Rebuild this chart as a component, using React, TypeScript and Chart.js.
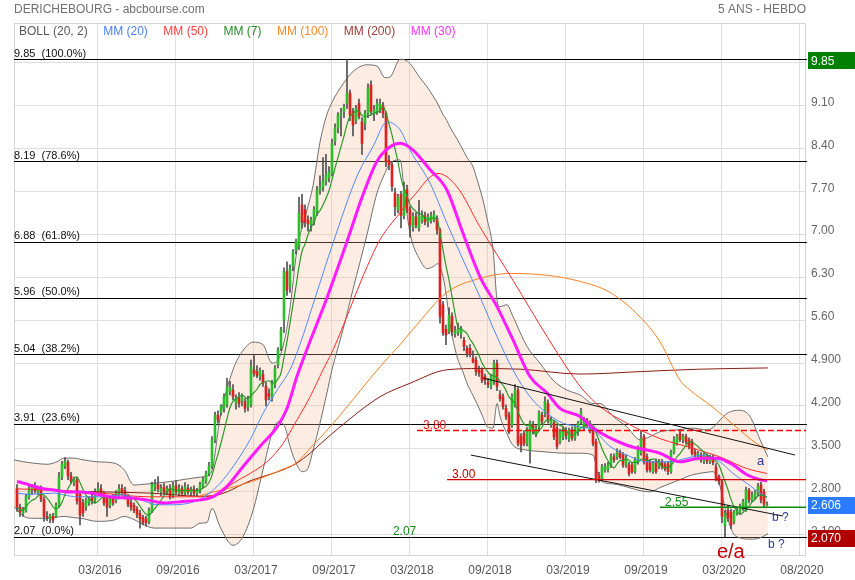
import React, { useEffect, useRef } from "react";
import { Chart, registerables } from "chart.js";

Chart.register(...registerables);

const FONT = '"Liberation Sans", Arial, Helvetica, sans-serif';

// ---- weekly candles (week index 0..250) ----
const open = [
  2.85,2.55,2.45,2.50,2.72,2.84,2.88,2.80,2.86,2.68,
  2.40,2.36,2.40,2.40,2.58,3.05,3.22,3.28,3.06,2.96,
  3.00,2.76,2.62,2.55,2.62,2.72,2.66,2.78,2.85,2.76,
  2.70,2.58,2.70,2.66,2.76,2.86,2.82,2.72,2.62,2.58,
  2.52,2.45,2.38,2.36,2.32,2.48,2.88,2.92,2.80,2.88,
  2.80,2.85,2.74,2.90,2.78,2.85,2.78,2.86,2.80,2.84,
  2.78,2.82,2.90,2.98,3.10,3.22,3.65,4.05,4.10,4.16,
  4.22,4.44,4.46,4.24,4.33,4.28,4.27,4.18,4.22,4.79,
  4.76,4.68,4.71,4.52,4.40,4.33,4.55,4.87,5.14,5.60,
  6.39,6.14,6.47,6.74,6.80,7.48,7.40,7.23,7.15,7.20,
  7.37,7.72,7.76,7.86,7.92,7.99,8.51,8.73,8.94,9.00,
  9.13,9.30,9.00,8.85,9.13,8.83,8.80,8.97,9.43,8.97,
  9.00,9.05,9.10,8.97,8.20,8.13,7.67,7.40,7.65,7.30,
  7.73,7.40,7.12,7.28,7.10,7.22,7.30,7.20,7.22,7.24,
  7.26,7.07,5.85,5.45,5.41,5.66,5.38,5.40,5.38,5.27,
  5.14,5.14,4.98,4.95,4.79,4.79,4.68,4.58,4.52,4.60,
  4.89,4.38,4.35,4.16,4.05,3.89,4.22,4.46,3.70,3.75,
  3.59,3.48,3.89,3.75,3.86,4.05,4.08,4.24,3.90,3.92,
  3.84,3.62,3.70,3.80,3.66,3.80,3.68,3.78,3.94,3.86,
  3.97,3.81,3.78,3.62,3.07,3.02,3.16,3.16,3.24,3.37,
  3.37,3.45,3.40,3.24,3.24,3.24,3.13,3.29,3.43,3.70,
  3.37,3.29,3.13,3.29,3.21,3.29,3.24,3.26,3.13,3.45,
  3.60,3.75,3.65,3.70,3.65,3.62,3.45,3.36,3.40,3.30,
  3.38,3.30,3.36,3.21,3.05,2.97,2.25,2.50,2.47,2.31,
  2.45,2.48,2.53,2.50,2.83,2.67,2.72,2.78,2.91,2.80,
  2.59,
];
const high = [
  2.92,2.60,2.55,2.76,2.90,2.92,2.95,2.90,2.90,2.72,
  2.48,2.44,2.45,2.62,3.12,3.30,3.36,3.32,3.12,3.04,
  3.04,2.80,2.68,2.70,2.72,2.80,2.85,2.95,2.92,2.80,
  2.74,2.72,2.76,2.82,2.92,2.92,2.88,2.76,2.68,2.62,
  2.56,2.50,2.42,2.40,2.54,2.96,3.00,3.05,2.92,2.94,
  2.90,2.92,2.96,2.98,2.92,2.90,2.95,2.92,2.88,2.90,
  2.86,2.96,3.04,3.14,3.28,3.70,4.10,4.12,4.22,4.40,
  4.65,4.60,4.55,4.38,4.42,4.40,4.32,4.36,4.95,5.02,
  4.86,4.82,4.78,4.58,4.48,4.62,4.86,5.15,5.48,6.45,
  6.55,6.50,6.75,6.92,7.60,7.65,7.48,7.30,7.28,7.45,
  7.78,7.95,8.25,8.30,8.10,8.55,8.80,8.98,9.05,9.12,
  9.85,9.35,9.05,9.10,9.20,8.90,9.02,9.45,9.50,9.10,
  9.20,9.20,9.15,9.00,8.28,8.18,7.75,7.65,7.70,7.85,
  7.80,7.45,7.35,7.35,7.55,7.38,7.36,7.33,7.36,7.38,
  7.30,7.10,5.90,5.52,5.80,5.72,5.50,5.55,5.50,5.32,
  5.18,5.20,5.10,5.00,4.85,4.82,4.72,4.65,4.72,4.95,
  4.95,4.45,4.40,4.22,4.10,4.40,4.55,4.50,3.75,3.80,
  3.85,3.96,3.95,3.88,4.12,4.10,4.35,4.30,4.02,3.96,
  3.88,3.82,3.86,3.85,3.84,3.86,3.88,3.95,4.16,4.02,
  4.00,3.96,3.82,3.66,3.12,3.25,3.26,3.28,3.42,3.42,
  3.50,3.48,3.44,3.40,3.28,3.28,3.36,3.55,3.80,3.74,
  3.42,3.33,3.30,3.34,3.33,3.33,3.28,3.30,3.48,3.70,
  3.74,3.82,3.74,3.74,3.68,3.66,3.50,3.46,3.44,3.44,
  3.42,3.40,3.40,3.26,3.08,3.00,2.50,2.58,2.52,2.50,
  2.55,2.60,2.68,2.88,2.86,2.80,2.82,2.94,2.96,2.84,
  2.64,
];
const low = [
  2.48,2.40,2.40,2.47,2.68,2.76,2.78,2.76,2.64,2.32,
  2.33,2.30,2.30,2.38,2.55,3.00,3.18,3.00,2.94,2.90,
  2.60,2.26,2.40,2.50,2.58,2.60,2.62,2.74,2.74,2.58,
  2.40,2.54,2.58,2.62,2.72,2.76,2.68,2.56,2.50,2.46,
  2.38,2.21,2.26,2.24,2.28,2.46,2.82,2.80,2.74,2.76,
  2.75,2.68,2.70,2.76,2.74,2.74,2.75,2.76,2.74,2.74,
  2.74,2.78,2.86,2.94,3.06,3.18,3.60,3.92,4.05,4.10,
  4.18,4.38,4.30,4.15,4.18,4.20,4.10,4.12,4.18,4.68,
  4.66,4.62,4.52,4.20,4.30,4.28,4.50,4.82,5.10,5.40,
  6.00,6.05,6.40,6.68,6.75,7.10,7.12,7.05,7.05,7.15,
  7.30,7.65,7.70,7.80,7.85,7.95,8.45,8.65,8.60,8.90,
  9.05,8.85,8.60,8.80,8.88,8.30,8.70,8.90,8.95,8.85,
  8.95,8.98,8.90,8.10,8.05,7.70,7.30,7.35,7.10,7.25,
  7.35,6.95,7.05,7.10,7.05,7.18,7.15,7.12,7.18,7.20,
  7.00,5.55,5.35,5.20,5.38,5.35,5.32,5.35,5.30,5.10,
  5.00,5.00,4.90,4.70,4.68,4.58,4.55,4.50,4.48,4.55,
  4.45,4.28,4.15,3.98,3.75,3.85,4.18,3.55,3.45,3.55,
  3.55,3.27,3.74,3.70,3.82,3.90,4.02,3.92,3.85,3.65,
  3.50,3.58,3.65,3.66,3.62,3.64,3.64,3.72,3.90,3.80,
  3.85,3.76,3.55,2.95,2.96,2.98,3.12,3.12,3.20,3.28,
  3.33,3.34,3.20,3.20,3.06,3.10,3.10,3.25,3.40,3.25,
  3.12,3.12,3.10,3.10,3.18,3.17,3.14,3.08,3.10,3.42,
  3.56,3.62,3.60,3.58,3.50,3.40,3.36,3.32,3.28,3.26,
  3.26,3.26,3.24,2.98,2.92,2.30,2.07,2.32,2.20,2.28,
  2.42,2.45,2.50,2.48,2.62,2.64,2.68,2.74,2.62,2.56,
  2.57,
];
const close = [
  2.55,2.47,2.50,2.72,2.86,2.88,2.82,2.87,2.68,2.40,
  2.38,2.41,2.34,2.58,3.05,3.25,3.30,3.06,2.98,3.00,
  2.65,2.42,2.46,2.66,2.68,2.65,2.80,2.85,2.78,2.62,
  2.55,2.68,2.62,2.78,2.85,2.80,2.72,2.60,2.55,2.50,
  2.43,2.36,2.30,2.30,2.50,2.92,2.92,2.85,2.86,2.80,
  2.85,2.72,2.90,2.80,2.85,2.78,2.88,2.80,2.84,2.78,
  2.82,2.92,3.00,3.10,3.22,3.65,4.05,3.97,4.19,4.35,
  4.51,4.50,4.35,4.33,4.24,4.34,4.16,4.30,4.84,4.73,
  4.70,4.78,4.57,4.30,4.36,4.57,4.81,5.11,5.44,6.39,
  6.09,6.44,6.71,6.88,7.34,7.20,7.20,7.17,7.23,7.40,
  7.72,7.76,7.86,7.96,8.02,8.48,8.73,8.94,8.97,9.08,
  9.30,8.94,8.78,9.05,8.92,8.48,8.97,9.38,9.00,9.02,
  9.13,9.12,8.97,8.18,8.13,7.78,7.45,7.60,7.30,7.72,
  7.39,7.15,7.29,7.15,7.29,7.30,7.20,7.28,7.30,7.32,
  7.07,5.66,5.40,5.36,5.68,5.41,5.42,5.45,5.46,5.17,
  5.06,5.04,4.92,4.76,4.74,4.62,4.62,4.55,4.68,4.89,
  4.52,4.32,4.19,4.03,3.78,4.35,4.46,3.59,3.56,3.59,
  3.81,3.92,3.78,3.84,4.08,3.95,4.27,3.97,3.97,3.70,
  3.54,3.78,3.82,3.72,3.80,3.68,3.85,3.92,4.11,3.97,
  3.88,3.92,3.59,2.99,2.99,3.21,3.21,3.24,3.37,3.32,
  3.45,3.37,3.24,3.35,3.10,3.13,3.32,3.51,3.67,3.29,
  3.16,3.16,3.26,3.13,3.29,3.21,3.18,3.13,3.45,3.65,
  3.70,3.65,3.70,3.62,3.55,3.43,3.40,3.42,3.32,3.40,
  3.30,3.36,3.28,3.02,2.97,2.40,2.45,2.37,2.26,2.47,
  2.50,2.56,2.64,2.83,2.67,2.75,2.78,2.89,2.67,2.60,
  2.606,
];

// ---- Bollinger (20, 2) ----
const bollWeeks = [
  -1.0,2.3,5.3,10.0,13.3,15.7,19.0,21.3,26.7,32.3,
  35.7,39.0,41.3,45.7,51.3,58.0,61.0,63.3,65.0,67.7,
  72.0,75.3,78.7,82.0,85.0,87.0,89.3,91.0,93.3,95.0,
  96.7,98.7,101.0,103.3,105.0,108.7,112.0,116.7,120.0,122.7,
  124.3,127.7,129.3,131.0,134.3,136.7,138.7,140.3,142.0,143.3,
  144.3,146.7,148.7,150.0,152.0,153.3,155.3,156.7,158.7,160.0,
  161.0,163.3,165.3,170.0,174.3,178.7,183.3,187.7,192.0,194.3,
  198.7,203.3,207.7,211.0,214.3,220.0,225.3,230.0,232.0,234.3,
  236.7,238.7,241.0,244.3,247.7,250.3,
];
const bollUpper = [
  3.32,3.29,3.27,3.25,3.29,3.35,3.35,3.33,3.29,3.27,
  3.16,2.91,2.92,2.94,2.97,3.02,3.04,3.06,3.15,4.00,
  4.79,5.10,5.24,5.20,4.90,4.95,5.30,5.80,6.74,7.10,
  7.40,7.80,8.50,8.95,9.15,9.45,9.65,9.76,9.74,9.55,
  9.56,9.85,9.84,9.78,9.55,9.40,9.25,9.12,8.95,8.85,
  8.75,8.55,8.37,8.25,8.10,7.90,7.56,7.25,6.74,5.93,
  5.82,5.85,5.66,5.17,4.90,4.62,4.46,4.38,4.24,4.24,
  4.03,3.86,3.65,3.70,3.78,3.81,3.84,3.81,3.85,3.97,
  4.08,4.12,4.13,4.03,3.65,3.37,
];
const bollLower = [
  2.56,2.40,2.37,2.37,2.39,2.40,2.38,2.37,2.32,2.34,
  2.40,2.35,2.29,2.21,2.21,2.21,2.29,2.30,2.53,2.23,
  1.93,2.07,2.50,3.16,3.75,3.94,3.86,3.54,3.24,3.13,
  3.16,3.48,3.92,4.41,4.79,5.45,6.10,7.00,7.67,8.00,
  8.15,8.21,7.60,7.02,6.58,6.44,6.47,6.52,6.31,5.93,
  5.55,5.00,4.75,4.57,4.37,4.24,4.02,3.86,3.84,4.24,
  4.03,3.75,3.56,3.48,3.46,3.44,3.43,3.43,3.40,2.99,
  2.93,2.88,2.82,2.80,2.87,2.98,3.08,3.12,3.13,2.90,
  2.40,2.13,2.05,2.03,2.05,2.12,
];

// ---- moving averages: [week, value] ----
const mm20 = [[0,2.78],[4.3,2.76],[12.3,2.78],[15.7,2.75],[20,2.72],[28,2.72],[34.7,2.75],[41.3,2.67],[46.7,2.59],[52.3,2.59],[59,2.64],[63.3,2.75],[67.7,2.94],[72,3.21],[77.7,3.65],[82,4.08],[86.7,4.46],[91,4.79],[94.3,5.20],[99.3,5.95],[105.3,6.85],[113.3,7.94],[118.7,8.43],[123.3,8.83],[127.7,8.70],[131,8.37],[137.7,7.83],[143.3,7.18],[148.7,6.58],[154.3,5.98],[160,5.33],[165.3,4.79],[171,4.35],[176.7,4.08],[182,3.92],[187.7,3.86],[192,3.81],[197.7,3.54],[203.3,3.40],[210,3.29],[217.7,3.29],[223.3,3.35],[228.7,3.40],[234.3,3.29],[238.7,3.10],[243.3,2.94],[247.7,2.78],[250,2.72]];
const mm30 = [[0,2.97],[2.3,2.94],[8,2.86],[12.3,2.83],[16.7,2.80],[21.3,2.80],[28,2.75],[32.3,2.71],[38,2.70],[43.3,2.67],[49,2.62],[54.7,2.64],[61,2.67],[65.3,2.72],[70,2.89],[75.3,3.21],[81,3.54],[86.7,3.86],[90,4.16],[93.3,4.68],[96,5.04],[103.3,5.96],[110,6.88],[115,7.60],[120,8.19],[124.3,8.42],[127.7,8.48],[132,8.37],[137.7,8.05],[143.3,7.72],[148.7,7.01],[154.3,6.31],[160,5.82],[165.3,5.28],[171,4.68],[176.7,4.41],[181,4.16],[187.7,4.03],[192,3.84],[203.3,3.56],[214.3,3.43],[221,3.29],[227.7,3.35],[233.3,3.35],[238.7,3.24],[243.3,3.08],[247.7,3.00],[250,2.98]];
const mm50 = [[0,2.85],[14.3,2.82],[27.7,2.78],[44.3,2.72],[61,2.72],[67.7,2.78],[72,2.94],[77.7,3.10],[83.3,3.29],[88.7,3.59],[93.3,3.97],[97.7,4.35],[102,4.79],[105.3,5.11],[116.7,6.47],[121,6.91],[127.7,7.35],[132,7.61],[140.3,7.99],[146.7,7.77],[154.3,7.12],[165.3,6.25],[176.7,5.33],[185.3,4.68],[188.7,4.46],[194.3,4.19],[203.3,3.92],[214.3,3.67],[225.3,3.51],[234.3,3.37],[243.3,3.18],[250,3.10]];
const mm100 = [[61,2.74],[77.7,2.96],[88.7,3.17],[93.3,3.28],[97.7,3.51],[102,3.73],[107.7,4.05],[121,4.84],[127.7,5.20],[132,5.45],[143.3,6.05],[154.3,6.28],[164.3,6.36],[176.7,6.33],[187.7,6.23],[197.7,6.05],[207.7,5.65],[214.3,5.25],[221,4.62],[224.3,4.46],[231.7,4.19],[238.7,3.90],[246.7,3.58],[250.3,3.48]];
const mm200 = [[13.3,2.82],[27.7,2.80],[44.3,2.78],[61,2.73],[67.7,2.76],[77.7,2.98],[83.3,3.07],[88.7,3.16],[93.3,3.27],[97.7,3.43],[102,3.62],[107.7,3.86],[121,4.35],[131,4.57],[143.3,4.79],[154.3,4.81],[167.7,4.80],[187.7,4.72],[207.7,4.76],[227.7,4.80],[250.3,4.82]];

// ---- axes ----
const xTickWeeks = [26.67, 52.67, 78.67, 104.67, 130.67, 156.67, 182.67, 208.67, 234.67, 260.67];
const xTickLabels = ["03/2016", "09/2016", "03/2017", "09/2017", "03/2018", "09/2018", "03/2019", "09/2019", "03/2020", "08/2020"];
const yTickValues = [2.1, 2.8, 3.5, 4.2, 4.9, 5.6, 6.3, 7.0, 7.7, 8.4, 9.1, 9.8];

// ---- drawn levels ----
const fibLevels = [9.85, 8.19, 6.88, 5.96, 5.04, 3.91, 2.07];
const fibPercents = ["100.0%", "78.6%", "61.8%", "50.0%", "38.2%", "23.6%", "0.0%"];
const levelValues = [3.80, 3.00, 2.55];
const levelStartWeeks = [133.3, 143.3, 214.3];
const channelUpper = [[155.3, 4.656], [259.3, 3.401]];
const channelLower = [[151.3, 3.40], [255.3, 2.407]];
const highMark = 9.85;
const lastClose = 2.606;
const lowMark = 2.07;

const toXY = (pts: number[][]) => pts.map(([x, y]) => ({ x, y }));

export default function App() {
  const ref = useRef<HTMLCanvasElement>(null);

  useEffect(() => {
    const canvas = ref.current;
    if (!canvas) return;

    const wickData = close.map((_, i) => ({ x: i, y: [low[i], high[i]] }));
    const bodyData = close.map((c, i) => ({ x: i, y: [Math.min(open[i], c), Math.max(open[i], c)] }));
    const bodyColors = close.map((c, i) => (c >= open[i] ? "#2cbf2c" : "#dd2020"));
    const mm7 = close.map((_, i) => {
      const s = close.slice(Math.max(0, i - 6), i + 1);
      return { x: i, y: s.reduce((a, b) => a + b, 0) / s.length };
    });

    const levelStyles = [
      { color: "#ff0000", dash: [6, 3], width: 1.5 },
      { color: "#d00000", dash: [] as number[], width: 1.3 },
      { color: "#0a8a0a", dash: [] as number[], width: 1.5 },
    ];

    const notes = [
      { t: "3.80", w: 135.3, v: 3.80, dy: -2, color: "#e01818", size: 12 },
      { t: "3.00", w: 145.0, v: 3.00, dy: -2, color: "#c40000", size: 12 },
      { t: "2.55", w: 216.0, v: 2.55, dy: -1, color: "#158a15", size: 12 },
      { t: "2.07", w: 125.3, v: 2.07, dy: -2, color: "#158a15", size: 12 },
      { t: "a", w: 246.7, v: 3.238, dy: 0, color: "#2c3a96", size: 13 },
      { t: "b ?", w: 251.7, v: 2.326, dy: 0, color: "#2c3a96", size: 12 },
      { t: "b ?", w: 250.3, v: 1.886, dy: 0, color: "#2c3a96", size: 12 },
      { t: "e/a", w: 233.3, v: 1.723, dy: 0, color: "#c40000", size: 20 },
    ];

    const legendItems: [string, string][] = [
      ["BOLL (20, 2)", "#5a5a5a"],
      ["MM (20)", "#4a7dff"],
      ["MM (50)", "#ff4040"],
      ["MM (7)", "#258a25"],
      ["MM (100)", "#ff8a2a"],
      ["MM (200)", "#9c3a36"],
      ["MM (30)", "#ff30ff"],
    ];

    const overlay = {
      id: "overlay",
      beforeDatasetsDraw(chart: any) {
        const { ctx, chartArea: a, scales } = chart;
        const y = scales.y;
        ctx.save();
        ctx.lineWidth = 1;
        ctx.strokeStyle = "#d4d4d4";
        ctx.strokeRect(Math.round(a.left) + 0.5, Math.round(a.top) + 0.5, Math.round(a.right - a.left) - 1, Math.round(a.bottom - a.top) - 1);
        ctx.strokeStyle = "#000";
        fibLevels.forEach((v) => {
          const yy = Math.round(y.getPixelForValue(v)) + 0.5;
          ctx.beginPath();
          ctx.moveTo(a.left, yy);
          ctx.lineTo(a.right + 1, yy);
          ctx.stroke();
        });
        ctx.restore();
      },
      afterDatasetsDraw(chart: any) {
        const { ctx, chartArea: a, scales } = chart;
        const x = scales.x, y = scales.y;
        ctx.save();
        levelValues.forEach((v, i) => {
          const st = levelStyles[i];
          ctx.lineWidth = st.width;
          ctx.strokeStyle = st.color;
          ctx.setLineDash(st.dash);
          const yy = y.getPixelForValue(v);
          ctx.beginPath();
          ctx.moveTo(Math.round(x.getPixelForValue(levelStartWeeks[i])), yy);
          ctx.lineTo(a.right, yy);
          ctx.stroke();
        });
        ctx.setLineDash([]);
        ctx.restore();
      },
      afterDraw(chart: any) {
        const { ctx, chartArea: a, scales } = chart;
        const x = scales.x, y = scales.y;
        ctx.save();
        ctx.textBaseline = "alphabetic";
        ctx.font = `12px ${FONT}`;
        ctx.fillStyle = "#707070";
        ctx.textAlign = "left";
        ctx.fillText("DERICHEBOURG - abcbourse.com", 14, 13);
        ctx.textAlign = "right";
        ctx.fillText("5 ANS - HEBDO", a.right, 13);

        ctx.textAlign = "left";
        let lx = 19;
        legendItems.forEach(([t, c]) => {
          ctx.fillStyle = c;
          ctx.fillText(t, lx, 35);
          lx += ctx.measureText(t).width + 15.5;
        });

        ctx.font = `11px ${FONT}`;
        ctx.fillStyle = "#111";
        fibLevels.forEach((v, i) => {
          ctx.fillText(`${v.toFixed(2)}  (${fibPercents[i]})`, a.left, y.getPixelForValue(v) - 2.5);
        });

        notes.forEach((n) => {
          ctx.font = `${n.size}px ${FONT}`;
          ctx.fillStyle = n.color;
          ctx.fillText(n.t, x.getPixelForValue(n.w), y.getPixelForValue(n.v) + n.dy);
        });

        const box = (v: number, text: string, bg: string) => {
          const cy = y.getPixelForValue(v) + 1.5;
          ctx.fillStyle = bg;
          ctx.fillRect(a.right + 2, Math.round(cy - 8.5), 47, 17);
          ctx.fillStyle = "#fff";
          ctx.font = `12px ${FONT}`;
          ctx.textBaseline = "middle";
          ctx.fillText(text, a.right + 5, cy + 0.5);
          ctx.textBaseline = "alphabetic";
        };
        box(highMark, highMark.toFixed(2), "#008000");
        box(lastClose, lastClose.toFixed(3), "#2a7bff");
        box(lowMark, lowMark.toFixed(3), "#b00000");
        ctx.restore();
      },
    };

    const line = (data: any[], color: string, width: number, order: number, extra: any = {}) => ({
      type: "line",
      data,
      borderColor: color,
      borderWidth: width,
      pointRadius: 0,
      fill: false,
      cubicInterpolationMode: "monotone",
      order,
      ...extra,
    });

    const chart = new Chart(canvas, {
      type: "bar",
      data: {
        datasets: [
          line(bollWeeks.map((w, i) => ({ x: w, y: bollUpper[i] })), "#6f6f6f", 1, 100, {
            fill: "+1",
            backgroundColor: "rgba(247, 188, 150, 0.28)",
          }),
          line(bollWeeks.map((w, i) => ({ x: w, y: bollLower[i] })), "#6f6f6f", 1, 99),
          {
            type: "bar",
            data: wickData,
            backgroundColor: "#505050",
            barThickness: 1,
            grouped: false,
            order: 95,
          },
          {
            type: "bar",
            data: bodyData,
            backgroundColor: bodyColors,
            barThickness: 2,
            minBarLength: 1,
            grouped: false,
            order: 94,
          },
          line(toXY(mm200), "#8b1c14", 1, 80),
          line(toXY(mm100), "#ff7f1f", 1, 79),
          line(toXY(mm50), "#ff2a2a", 1, 78),
          line(toXY(mm20), "#4f86ff", 1, 77),
          line(mm7, "#2a9a2a", 1.2, 76),
          line(toXY(mm30), "#ff1aff", 3, 75),
          line(toXY(channelUpper), "#111", 1, 70, { cubicInterpolationMode: "default", tension: 0 }),
          line(toXY(channelLower), "#111", 1, 70, { cubicInterpolationMode: "default", tension: 0 }),
        ] as any,
      },
      options: {
        responsive: false,
        animation: false,
        devicePixelRatio: 1,
        events: [],
        layout: { padding: { left: 14, top: 22.7, right: 0, bottom: 0 }, autoPadding: false },
        plugins: { legend: { display: false }, tooltip: { enabled: false } },
        scales: {
          x: {
            type: "linear",
            min: -1,
            max: 263,
            offset: false,
            afterFit: (s: any) => { s.height = 24.5; },
            afterBuildTicks: (s: any) => { s.ticks = xTickWeeks.map((v) => ({ value: v })); },
            grid: { color: "#dedede", drawTicks: false, offset: false },
            border: { display: false },
            ticks: {
              autoSkip: false,
              maxRotation: 0,
              padding: 8,
              labelOffset: 3,
              color: "#555",
              font: { family: FONT, size: 12 },
              callback: (_v: any, i: number) => xTickLabels[i],
            },
          },
          y: {
            type: "linear",
            position: "right",
            min: 1.7633,
            max: 10.4465,
            afterFit: (s: any) => { s.width = 49; },
            afterBuildTicks: (s: any) => { s.ticks = yTickValues.map((v) => ({ value: v })); },
            grid: { color: "#dedede", drawTicks: false },
            border: { display: false },
            ticks: {
              autoSkip: false,
              padding: 5,
              labelOffset: -3,
              color: "#666",
              font: { family: FONT, size: 12 },
              callback: (v: any) => (v >= 5 ? Number(v).toFixed(2) : Number(v).toFixed(3)),
            },
          },
        },
      } as any,
      plugins: [overlay],
    });

    return () => chart.destroy();
  }, []);

  return (
    <div style={{ position: "absolute", left: 0, top: 0, width: 855, height: 580, background: "#fff" }}>
      <canvas ref={ref} width={855} height={580} style={{ display: "block", width: 855, height: 580 }} />
    </div>
  );
}
